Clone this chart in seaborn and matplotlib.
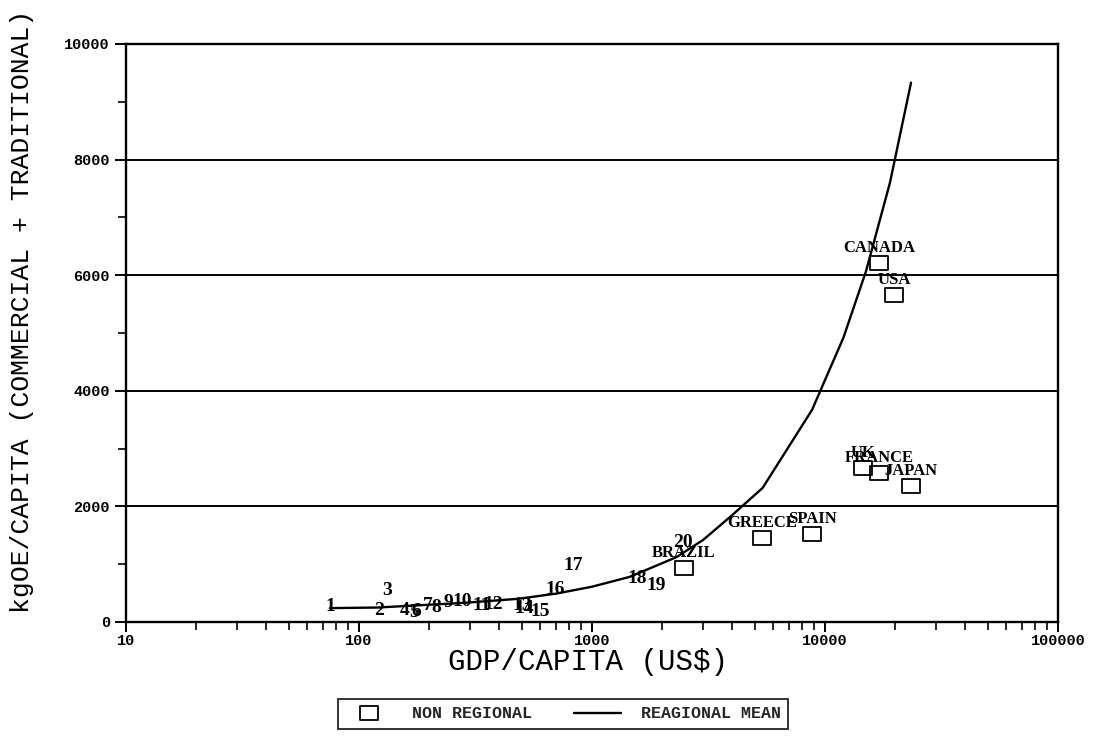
import numpy as np
import pandas as pd
import matplotlib
matplotlib.use("Agg")
import matplotlib.pyplot as plt
import seaborn as sns
from matplotlib.ticker import FixedLocator, FuncFormatter, NullFormatter
from matplotlib.lines import Line2D
from matplotlib.path import Path
from matplotlib.markers import MarkerStyle

# Regional countries, shown by their number
regional_ids = [str(i) for i in range(1, 21)]
regional_gdp = [75, 122, 132, 157, 172, 176, 198, 214, 243, 277,
                337, 376, 501, 511, 598, 694, 829, 1560, 1883, 2460]
regional_energy = [260, 190, 536, 190, 156, 180, 277, 242, 329, 346,
                   277, 311, 277, 225, 173, 554, 969, 744, 623, 1367]

# Non-regional countries
countries = ["BRAZIL", "GREECE", "SPAIN", "UK", "FRANCE", "JAPAN", "CANADA", "USA"]
country_gdp = [2480, 5370, 8790, 14550, 17050, 23400, 17050, 19800]
country_energy = [930, 1450, 1520, 2660, 2580, 2350, 6210, 5660]

# Regional mean curve
mean_gdp = [75, 120, 280, 480, 700, 1000, 1450, 2300, 3000, 4000,
            5400, 8800, 12000, 15000, 19000, 23400]
mean_energy = [240, 250, 330, 400, 490, 610, 780, 1120, 1420, 1850,
               2320, 3670, 4920, 6070, 7600, 9330]

x_major = [10, 100, 1000, 10000, 100000]
y_major = [0, 2000, 4000, 6000, 8000, 10000]

sns.set_theme(style="ticks")
plt.rcParams["font.family"] = ["Liberation Mono", "DejaVu Sans"]

fig = plt.figure(figsize=(11.11, 7.53), dpi=100)
ax = fig.add_axes([0.1134, 0.174, 0.8389, 0.7676])

# open rectangle marker, wider than tall
rect = Path([(-1.3, -1), (1.3, -1), (1.3, 1), (-1.3, 1), (-1.3, -1)],
            [Path.MOVETO, Path.LINETO, Path.LINETO, Path.LINETO, Path.CLOSEPOLY])

mean_df = pd.DataFrame({"gdp": mean_gdp, "energy": mean_energy})
sns.lineplot(data=mean_df, x="gdp", y="energy", sort=False, estimator=None,
             color="black", lw=1.7, ax=ax)

nr_df = pd.DataFrame({"gdp": country_gdp, "energy": country_energy, "name": countries})
sns.scatterplot(data=nr_df, x="gdp", y="energy", marker=MarkerStyle(rect), s=160,
                facecolor="none", edgecolor="black", linewidth=1.3, ax=ax, zorder=3)

for name, gx, ey in zip(countries, country_gdp, country_energy):
    ax.annotate(name, (gx, ey), xytext=(0, 11), textcoords="offset points",
                ha="center", va="center", fontsize=12, fontweight="bold",
                family="Liberation Serif", color="black")

for rid, gx, ey in zip(regional_ids, regional_gdp, regional_energy):
    ax.text(gx, ey, rid, ha="center", va="center", fontsize=14,
            fontweight="bold", family="Liberation Serif", color="black")

ax.set_xscale("log")
ax.set_xlim(10, 100000)
ax.set_ylim(0, 10000)

ax.xaxis.set_major_locator(FixedLocator(x_major))
ax.xaxis.set_major_formatter(FuncFormatter(lambda v, p: f"{int(round(v))}"))
minor_x = [m * 10 ** k for k in range(1, 5) for m in range(2, 10)]
ax.xaxis.set_minor_locator(FixedLocator(minor_x))
ax.xaxis.set_minor_formatter(NullFormatter())

ax.yaxis.set_major_locator(FixedLocator(y_major))
ax.yaxis.set_minor_locator(FixedLocator([1000, 3000, 5000, 7000, 9000]))
ax.yaxis.set_major_formatter(FuncFormatter(lambda v, p: f"{int(v)}"))

ax.grid(axis="y", which="major", color="black", lw=1.4)
for s in ax.spines.values():
    s.set_color("black")
    s.set_linewidth(1.7)

ax.tick_params(axis="x", which="major", direction="out", length=7, width=1.4,
               pad=1.5, labelsize=11, colors="black")
ax.tick_params(axis="x", which="minor", direction="out", length=5.5, width=1.4)
ax.tick_params(axis="y", which="major", direction="out", length=8, width=1.4,
               pad=3.5, labelsize=11, colors="black")
ax.tick_params(axis="y", which="minor", direction="out", length=5.5, width=1.4)
for lab in ax.get_xticklabels() + ax.get_yticklabels():
    lab.set_fontweight("bold")

ax.set_xlabel("GDP/CAPITA (US$)", fontsize=21, color="black")
ax.set_ylabel("kgOE/CAPITA (COMMERCIAL + TRADITIONAL)", fontsize=19, color="black")
ax.xaxis.set_label_coords(0.496, -0.069)
ax.xaxis.label.set_verticalalignment("center")
ax.yaxis.set_label_coords(-0.1116, 0.538)
ax.yaxis.label.set_verticalalignment("center")

handles = [
    Line2D([], [], marker=MarkerStyle(rect), ls="none", mfc="none", mec="black",
           mew=1.3, ms=13),
    Line2D([], [], color="black", lw=1.7),
]
leg = fig.legend(handles, ["NON REGIONAL", "REAGIONAL MEAN"], ncol=2,
                 loc="center", bbox_to_anchor=(0.507, 0.052), frameon=True,
                 fancybox=False, edgecolor="black", handlelength=2.8,
                 handletextpad=1.2, columnspacing=2.5, borderpad=0.45,
                 prop={"family": "Liberation Mono", "weight": "bold", "size": 12})
leg.get_frame().set_linewidth(1.4)

fig.savefig("out.png", dpi=100, facecolor="white")
